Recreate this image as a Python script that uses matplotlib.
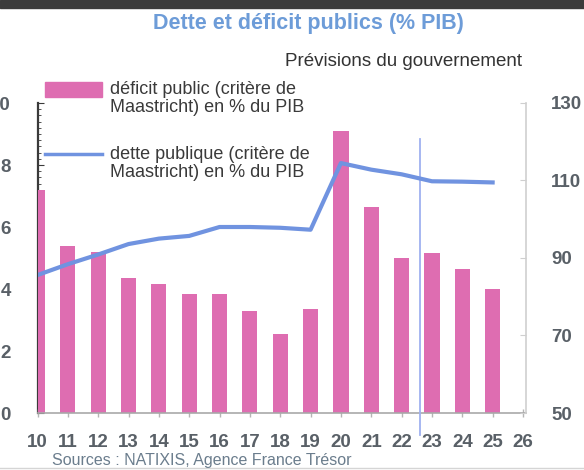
import matplotlib
matplotlib.use("Agg")
import matplotlib.pyplot as plt
from matplotlib.patches import Rectangle
from matplotlib.lines import Line2D
from matplotlib.ticker import MultipleLocator

plt.rcParams['font.family'] = ['Liberation Sans', 'DejaVu Sans']

years = [10, 11, 12, 13, 14, 15, 16, 17, 18, 19, 20, 21, 22, 23, 24, 25]
deficit = [7.2, 5.4, 5.2, 4.35, 4.15, 3.85, 3.85, 3.3, 2.55, 3.35, 9.1, 6.65, 5.0, 5.15, 4.65, 4.0]
dette = [85.6, 88.4, 90.9, 93.6, 95.0, 95.7, 98.0, 98.0, 97.8, 97.3, 114.5, 112.8, 111.6, 109.8, 109.7, 109.5]
x_ticks = list(range(10, 27))
left_ticks = [0, 2, 4, 6, 8, 10]
right_ticks = [50, 70, 90, 110, 130]
forecast_start = 22.6

title = "Dette et déficit publics (% PIB)"
subtitle = "Prévisions du gouvernement"
label_deficit = "déficit public (critère de\nMaastricht) en % du PIB"
label_dette = "dette publique (critère de\nMaastricht) en % du PIB"
source = "Sources : NATIXIS, Agence France Trésor"

pink = '#de6db1'
blue = '#7093e0'
tick_col = '#596067'

fig = plt.figure(figsize=(5.84, 4.70), dpi=100)
ax = fig.add_axes([37.5/584, 1-413/470, (526-37.5)/584, (413-103)/470])
ax2 = ax.twinx()

ax.bar(years, deficit, width=0.5, color=pink, zorder=2)
ax.set_xlim(10, 26.1)
ax.set_ylim(0, 10)
ax.set_xticks(x_ticks)
ax.set_yticks(left_ticks)
ax.yaxis.set_minor_locator(MultipleLocator(0.2))

ax2.plot(years, dette, color=blue, lw=3, solid_joinstyle='round', zorder=3)
ax2.set_ylim(50, 130)
ax2.set_yticks(right_ticks)

# forecast separator
ax.plot([forecast_start, forecast_start], [-0.7, 8.84], color='#9fb1f0', lw=1.3,
        clip_on=False, zorder=4)

for s in ['top']:
    ax.spines[s].set_visible(False)
    ax2.spines[s].set_visible(False)
ax2.spines['left'].set_visible(False)
ax2.spines['bottom'].set_visible(False)
ax.spines['right'].set_visible(False)
ax.spines['left'].set_color('#3a3a3a')
ax.spines['left'].set_linewidth(1.6)
ax.spines['left'].set_zorder(1)
ax.spines['bottom'].set_color('#a9a9a9')
ax.spines['bottom'].set_linewidth(1.2)
ax2.spines['right'].set_color('#cfcfcf')
ax2.spines['right'].set_linewidth(1.2)

ax.tick_params(axis='x', direction='inout', length=6, width=1, color='#b5b5b5', pad=12)
ax.tick_params(axis='y', which='major', direction='in', length=4, color='#3a3a3a', pad=19)
ax.tick_params(axis='y', which='minor', direction='in', length=2, width=0.6, color='#3a3a3a')
ax2.tick_params(axis='y', direction='in', length=4, color='#cfcfcf', pad=18)
for lab in ax.get_xticklabels() + ax.get_yticklabels() + ax2.get_yticklabels():
    lab.set_fontsize(13.5)
    lab.set_fontweight('bold')
    lab.set_color(tick_col)

# title / texts
fig.text(308/584, 1-24/470, title, ha='center', va='center', fontsize=15.5,
         fontweight='bold', color='#6d9cd8')
fig.text(522/584, 1-62/470, subtitle, ha='right', va='center', fontsize=13.5, color='#333333')
fig.text(52/584, 1-460/470, source, ha='left', va='center', fontsize=11.5, color='#6b7d8d')

# top dark band
fig.patches.append(Rectangle((0, 1-8/470), 1, 8/470, transform=fig.transFigure,
                             color='#3b3b3b', zorder=0))
fig.lines.append(Line2D([0, 1], [1-468/470, 1-468/470], transform=fig.transFigure,
                        color='#d5d5d5', lw=1))

# manual legend
fig.patches.append(Rectangle((45/584, 1-97/470), 57/584, 15/470, transform=fig.transFigure,
                             color=pink, zorder=5))
fig.text(110/584, 1-81/470, label_deficit, ha='left', va='top', fontsize=13,
         color='#3a3a3a', linespacing=1.1)
fig.lines.append(Line2D([45/584, 102/584], [1-154/470, 1-154/470], transform=fig.transFigure,
                        color=blue, lw=2.5, zorder=5))
fig.text(110/584, 1-146/470, label_dette, ha='left', va='top', fontsize=13,
         color='#3a3a3a', linespacing=1.1)

fig.savefig('out.png', dpi=100)
